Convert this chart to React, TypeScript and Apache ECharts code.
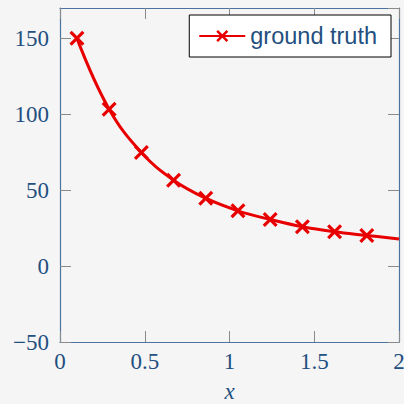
import React, { useEffect, useRef } from "react";
import * as echarts from "echarts";

const xValues = [0.1, 0.29, 0.48, 0.67, 0.86, 1.05, 1.24, 1.43, 1.62, 1.81, 2.0];
const yValues = [150, 103.3, 74.8, 56.6, 44.7, 36.4, 30.7, 25.9, 22.6, 20.2, 17.8];
const markedCount = 10;
const seriesName = "ground truth";

const RED = "#e80000";
const FRAME = "#4a73a0";
const LABEL = "#234f80";
const TICK = "#8a8a8a";
const XPATH =
  "path://M0,3 L3,0 L10,7 L17,0 L20,3 L13,10 L20,17 L17,20 L10,13 L3,20 L0,17 L7,10 Z";

export default function App() {
  const ref = useRef<HTMLDivElement>(null);
  useEffect(() => {
    if (!ref.current) return;
    const chart = echarts.init(ref.current, null, { renderer: "svg" });
    const data = xValues.map((x, i) =>
      i < markedCount ? [x, yValues[i]] : { value: [x, yValues[i]], symbol: "none" }
    );
    const serif = "Liberation Serif";
    const baseAxis = {
      axisLine: { show: true, onZero: false, lineStyle: { color: FRAME, width: 1.2 } },
      axisTick: { show: true, inside: true, length: 11, lineStyle: { color: TICK, width: 1 } },
      splitLine: { show: false },
    };
    chart.setOption({
      animation: false,
      backgroundColor: "#f5f5f5",
      grid: {
        left: 60,
        right: 5,
        top: 8,
        bottom: 62,
        containLabel: false,
        outerBoundsMode: "none",
      },
      legend: {
        right: 13,
        top: 15,
        data: [seriesName],
        backgroundColor: "#ffffff",
        borderColor: "#000000",
        borderWidth: 1,
        borderRadius: 0,
        padding: [9, 14, 9, 9],
        itemWidth: 46,
        itemHeight: 15,
        itemGap: 6,
        textStyle: {
          color: LABEL,
          fontSize: 23.5,
          fontFamily: "Liberation Sans",
        },
      },
      xAxis: [
        {
          ...baseAxis,
          type: "value",
          position: "bottom",
          min: 0,
          max: 2,
          interval: 0.5,
          name: "x",
          nameLocation: "middle",
          nameGap: 40,
          nameTextStyle: {
            color: LABEL,
            fontSize: 23,
            lineHeight: 18,
            fontStyle: "italic",
            fontFamily: serif,
          },
          axisLabel: { color: LABEL, fontSize: 23, fontFamily: serif, margin: 8 },
        },
        {
          ...baseAxis,
          type: "value",
          position: "top",
          min: 0,
          max: 2,
          interval: 0.5,
          axisLabel: { show: false },
        },
      ],
      yAxis: [
        {
          ...baseAxis,
          type: "value",
          position: "left",
          min: -50,
          max: 170,
          interval: 50,
          axisLabel: {
            color: LABEL,
            fontSize: 23,
            fontFamily: serif,
            margin: 11,
            showMaxLabel: false,
            formatter: (v: number) => (v < 0 ? "\u2212" + Math.abs(v) : String(v)),
          },
        },
        {
          ...baseAxis,
          type: "value",
          position: "right",
          min: -50,
          max: 170,
          interval: 50,
          axisLabel: { show: false },
        },
      ],
      series: [
        {
          name: seriesName,
          type: "line",
          xAxisIndex: 0,
          yAxisIndex: 0,
          data,
          smooth: 0.4,
          symbol: XPATH,
          symbolSize: 15,
          showAllSymbol: true,
          lineStyle: { color: RED, width: 3 },
          itemStyle: { color: RED, borderWidth: 0 },
          clip: true,
        },
      ],
    });
    return () => chart.dispose();
  }, []);
  return (
    <div
      ref={ref}
      style={{ position: "fixed", left: 0, top: 0, width: 404, height: 404, background: "#f5f5f5" }}
    />
  );
}
